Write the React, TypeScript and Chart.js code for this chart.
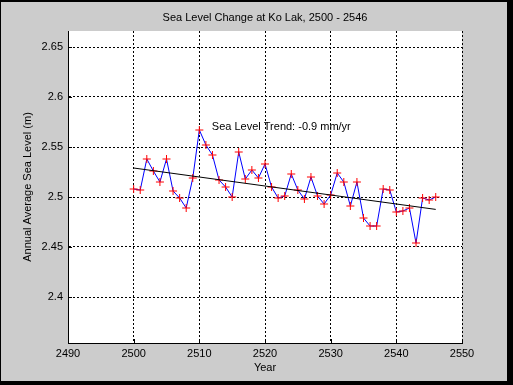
import React, { useEffect, useRef } from "react";
import { Chart, registerables } from "chart.js";

Chart.register(...registerables);

const years = [
  2500, 2501, 2502, 2503, 2504, 2505, 2506, 2507, 2508, 2509,
  2510, 2511, 2512, 2513, 2514, 2515, 2516, 2517, 2518, 2519,
  2520, 2521, 2522, 2523, 2524, 2525, 2526, 2527, 2528, 2529,
  2530, 2531, 2532, 2533, 2534, 2535, 2536, 2537, 2538, 2539,
  2540, 2541, 2542, 2543, 2544, 2545, 2546,
];
const seaLevel = [
  2.508, 2.507, 2.538, 2.526, 2.515, 2.538, 2.506, 2.499, 2.489, 2.519,
  2.567, 2.552, 2.542, 2.517, 2.510, 2.500, 2.545, 2.518, 2.527, 2.519,
  2.533, 2.510, 2.499, 2.501, 2.523, 2.507, 2.498, 2.520, 2.501, 2.493,
  2.502, 2.524, 2.515, 2.491, 2.515, 2.479, 2.471, 2.471, 2.508, 2.507,
  2.485, 2.486, 2.489, 2.454, 2.499, 2.497, 2.500,
];
const trendYears = [2500, 2546];
const trendLevel = [2.529, 2.4876];

const xTicks = [2490, 2500, 2510, 2520, 2530, 2540, 2550];
const xTickLabels = ["2490", "2500", "2510", "2520", "2530", "2540", "2550"];
const yTicks = [2.4, 2.45, 2.5, 2.55, 2.6, 2.65];
const yTickLabels = ["2.4", "2.45", "2.5", "2.55", "2.6", "2.65"];

const titleText = "Sea Level Change at Ko Lak, 2500 - 2546";
const xTitle = "Year";
const yTitle = "Annual Average Sea Level (m)";
const annText = "Sea Level Trend: -0.9 mm/yr";
const annX = 2511.9;
const annY = 2.5703;

const FONT = "Arial, 'Liberation Sans', Helvetica, sans-serif";

export default function App() {
  const ref = useRef<HTMLCanvasElement | null>(null);

  useEffect(() => {
    const canvas = ref.current;
    if (!canvas) return;

    const bgPlugin = {
      id: "figBg",
      beforeDraw(chart: any) {
        const ctx = chart.ctx;
        ctx.save();
        ctx.fillStyle = "#000000";
        ctx.fillRect(0, 0, chart.width, chart.height);
        ctx.fillStyle = "#cccccc";
        ctx.fillRect(1, 2, 506, 379);
        const a = chart.chartArea;
        ctx.fillStyle = "#ffffff";
        ctx.fillRect(a.left, a.top, a.right - a.left, a.bottom - a.top);
        ctx.restore();
      },
    };

    const extrasPlugin = {
      id: "extras",
      afterDatasetsDraw(chart: any) {
        const ctx = chart.ctx;
        const xs = chart.scales.x;
        const ys = chart.scales.y;
        const a = chart.chartArea;
        ctx.save();
        // inward tick marks
        ctx.strokeStyle = "#000000";
        ctx.lineWidth = 1;
        ctx.beginPath();
        yTicks.forEach((v) => {
          const py = Math.round(ys.getPixelForValue(v)) + 0.5;
          ctx.moveTo(a.left, py);
          ctx.lineTo(a.left + 4, py);
        });
        xTicks.forEach((v) => {
          const px = Math.round(xs.getPixelForValue(v)) + 0.5;
          ctx.moveTo(px, a.bottom);
          ctx.lineTo(px, a.bottom - 4);
        });
        ctx.stroke();
        // annotation
        ctx.fillStyle = "#000000";
        ctx.font = `11px ${FONT}`;
        ctx.textAlign = "left";
        ctx.textBaseline = "middle";
        ctx.fillText(annText, xs.getPixelForValue(annX), ys.getPixelForValue(annY));
        ctx.restore();
      },
    };

    const chart = new Chart(canvas, {
      type: "line",
      data: {
        datasets: [
          {
            label: "Trend",
            data: trendYears.map((x, i) => ({ x, y: trendLevel[i] })),
            borderColor: "#000000",
            borderWidth: 1,
            pointRadius: 0,
            fill: false,
          },
          {
            label: "Sea level",
            data: years.map((x, i) => ({ x, y: seaLevel[i] })),
            borderColor: "#0000ff",
            borderWidth: 1,
            tension: 0,
            pointStyle: "cross",
            pointRadius: 4,
            pointBorderColor: "#ff0000",
            pointBackgroundColor: "#ff0000",
            pointBorderWidth: 1,
            fill: false,
          },
        ],
      },
      options: {
        animation: false,
        responsive: false,
        devicePixelRatio: 1,
        layout: { padding: { left: 0, right: 51, top: 0, bottom: 0 } },
        plugins: {
          legend: { display: false },
          tooltip: { enabled: false },
          title: {
            display: true,
            text: titleText,
            fullSize: false,
            color: "#000000",
            font: { family: FONT, size: 11, weight: "normal" },
            padding: { top: 11.4, bottom: 6.4 },
          },
        },
        scales: {
          x: {
            type: "linear",
            min: 2490,
            max: 2550,
            afterBuildTicks: (s: any) => {
              s.ticks = xTicks.map((v) => ({ value: v }));
            },
            afterFit: (s: any) => {
              s.height = 42;
            },
            ticks: {
              padding: 4,
              color: "#000000",
              font: { family: FONT, size: 11 },
              maxRotation: 0,
              autoSkip: false,
              callback: (_v: any, i: number) => xTickLabels[i],
            },
            grid: { color: "#000000", lineWidth: 1, drawTicks: false },
            border: { display: true, color: "#000000", width: 1, dash: [2, 2] },
            title: {
              display: true,
              text: xTitle,
              color: "#000000",
              font: { family: FONT, size: 11 },
              padding: { top: 0, bottom: 10.4 },
            },
          },
          y: {
            type: "linear",
            min: 2.354,
            max: 2.666,
            afterBuildTicks: (s: any) => {
              s.ticks = yTicks.map((v) => ({ value: v }));
            },
            afterFit: (s: any) => {
              s.width = 68;
            },
            ticks: {
              padding: 5,
              color: "#000000",
              font: { family: FONT, size: 11 },
              autoSkip: false,
              callback: (_v: any, i: number) => yTickLabels[i],
            },
            grid: { color: "#000000", lineWidth: 1, drawTicks: false },
            border: { display: true, color: "#000000", width: 1, dash: [2, 2] },
            title: {
              display: true,
              text: yTitle,
              color: "#000000",
              font: { family: FONT, size: 11 },
              padding: { top: 21, bottom: 0 },
            },
          },
        },
      },
      plugins: [bgPlugin, extrasPlugin],
    } as any);

    return () => chart.destroy();
  }, []);

  return (
    <div style={{ position: "absolute", left: 0, top: 0, width: 513, height: 385 }}>
      <canvas ref={ref} width={513} height={385} style={{ display: "block", width: 513, height: 385 }} />
    </div>
  );
}
